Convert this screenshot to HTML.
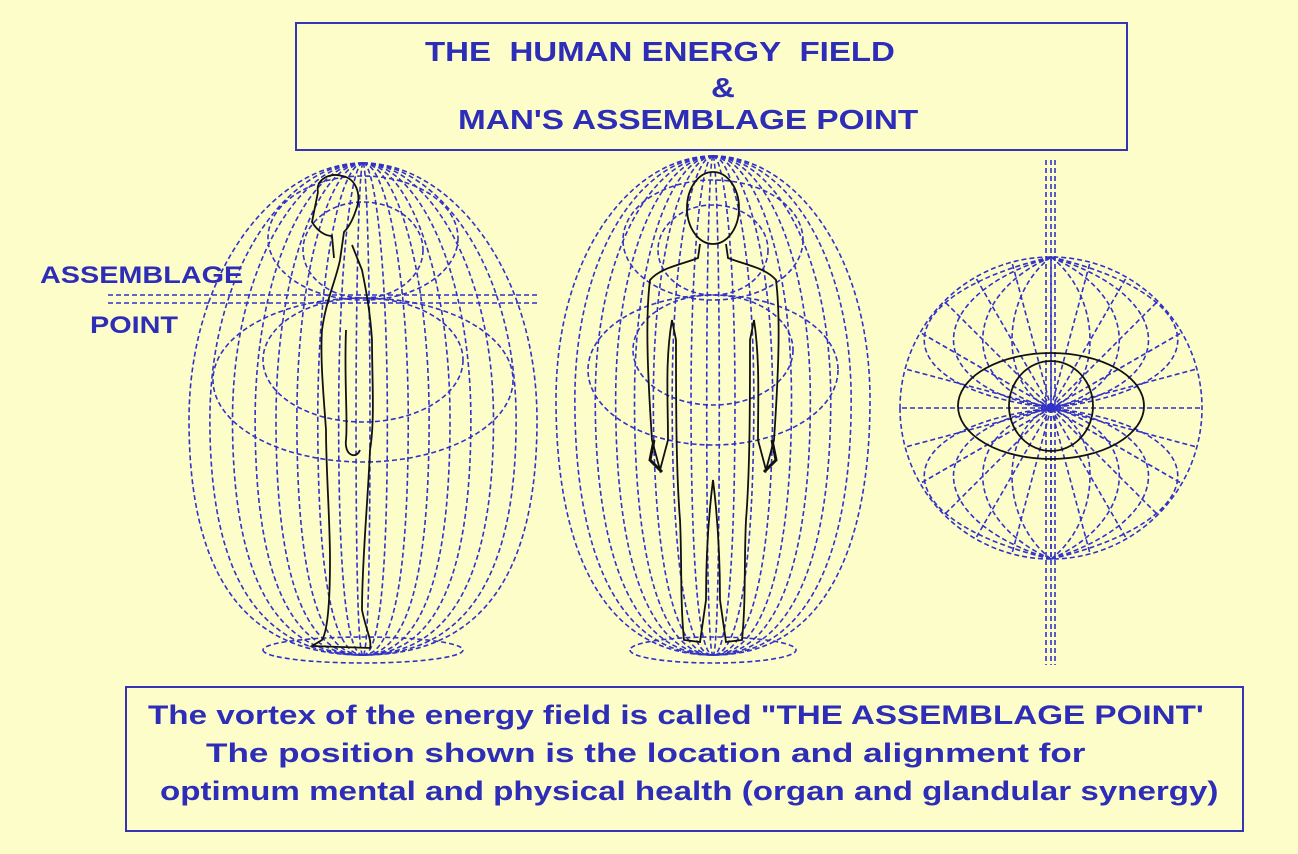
<!DOCTYPE html>
<html><head><meta charset="utf-8"><style>
html,body{margin:0;padding:0;background:#FDFDC9;}
body{width:1298px;height:854px;overflow:hidden;position:relative;font-family:"Liberation Sans",sans-serif;}
.box{position:absolute;border:2px solid #3434b4;box-sizing:border-box;}
.t{position:absolute;font-weight:bold;color:#2d2db8;white-space:nowrap;transform-origin:0 0;}
</style></head><body>
<svg id="s" width="1298" height="854" style="position:absolute;left:0;top:0">
<g id="g" fill="none" stroke="#3232c8" stroke-width="1.6" stroke-dasharray="5 3"></g>
<g fill="none" stroke="#111" stroke-width="1.8">
<path d="M318,192 C315,180 330,172 342,176 C356,178 362,195 356,210 C352,222 348,228 344,232 L340,260 C336,280 326,300 322,330 C320,360 324,400 326,430 C326,470 330,520 330,560 C330,600 328,630 322,640 L312,646 L370,648 C372,640 366,630 362,610 C362,560 368,500 370,450 C375,420 372,380 372,340 C370,310 366,290 362,270 L352,245"/>
<path d="M318,192 L312,222 C318,232 326,236 332,236 L334,258"/>
<path d="M346,330 C344,380 348,420 346,440 C344,455 356,460 360,450"/>
<ellipse cx="713" cy="208" rx="26" ry="36"/>
<path d="M700,244 L698,258 C680,265 660,268 650,280 C645,320 648,380 652,440 L660,470 L668,440 C668,400 665,360 672,320 L676,340 C676,400 676,470 680,520 C682,560 680,600 684,640 L700,642 L706,600 C706,560 708,520 713,480 C718,520 720,560 720,600 L726,642 L742,640 C746,600 744,560 746,520 C750,470 750,400 750,340 L754,320 C760,360 758,400 758,440 L766,470 L774,440 C778,380 781,320 776,280 C766,268 746,265 728,258 L726,244"/>
<path d="M654,440 l-4,20 l12,12 M772,440 l4,20 l-12,12" stroke-width="3"/>
<ellipse cx="1051" cy="406" rx="93" ry="53"/>
<ellipse cx="1051" cy="406" rx="42" ry="45"/>
</g>
</svg>
<div class="box" style="left:295px;top:22px;width:833px;height:129px"></div>
<div class="t" style="left:425px;top:36px;font-size:28px;transform:scaleX(1.18)">THE&nbsp; HUMAN ENERGY&nbsp; FIELD</div>
<div class="t" style="left:711px;top:72px;font-size:28px;transform:scaleX(1.18)">&amp;</div>
<div class="t" style="left:458px;top:104px;font-size:28px;transform:scaleX(1.19)">MAN'S ASSEMBLAGE POINT</div>
<div class="t" style="left:40px;top:262px;font-size:24px;transform:scaleX(1.2)">ASSEMBLAGE</div>
<div class="t" style="left:90px;top:312px;font-size:24px;transform:scaleX(1.2)">POINT</div>
<div class="box" style="left:125px;top:686px;width:1119px;height:146px"></div>
<div class="t" style="left:148px;top:700px;font-size:27px;transform:scaleX(1.23)">The vortex of the energy field is called "THE ASSEMBLAGE POINT'</div>
<div class="t" style="left:206px;top:738px;font-size:27px;transform:scaleX(1.3)">The position shown is the location and alignment for</div>
<div class="t" style="left:160px;top:776px;font-size:27px;transform:scaleX(1.227)">optimum mental and physical health (organ and glandular synergy)</div>
<script>
var g=document.getElementById('g'),NS='http://www.w3.org/2000/svg';
function P(d){var p=document.createElementNS(NS,'path');p.setAttribute('d',d);g.appendChild(p);}
function E(cx,cy,rx,ry){var e=document.createElementNS(NS,'ellipse');e.setAttribute('cx',cx);e.setAttribute('cy',cy);e.setAttribute('rx',rx);e.setAttribute('ry',ry);g.appendChild(e);}
function egg(cx,top,bot,W,ym){
  var fr=[1,0.88,0.75,0.62,0.5,0.38,0.26,0.14,0.04];
  fr.forEach(function(f){[1,-1].forEach(function(s){var w=W*f*s;
   P('M'+cx+','+top+' C'+(cx+w*0.5)+','+top+' '+(cx+w)+','+(ym-150)+' '+(cx+w)+','+ym+' C'+(cx+w)+','+(ym+150)+' '+(cx+w*0.7)+','+bot+' '+cx+','+bot);});});
}
egg(363,163,655,174,420);
egg(713,156,655,157,400);
E(363,238,95,62);E(363,250,60,48);
E(363,380,150,82);E(363,360,100,62);
E(713,240,90,60);E(713,250,55,45);
E(713,370,125,75);E(713,350,80,55);
P('M263,650 a100,13 0 1,0 200,0 a100,13 0 1,0 -200,0');
P('M630,650 a83,13 0 1,0 166,0 a83,13 0 1,0 -166,0');
P('M108,295 L540,295');P('M108,303 L540,303');
var cx=1051,cy=408,r=151;
P('M'+(cx-r)+','+cy+' a'+r+','+r+' 0 1,0 '+(2*r)+',0 a'+r+','+r+' 0 1,0 '+(-2*r)+',0');
for(var a=0;a<360;a+=15){var t=a*Math.PI/180;P('M'+cx+','+cy+' L'+(cx+r*Math.cos(t))+','+(cy+r*Math.sin(t)));}
[40,70,100,130].forEach(function(k){[1,-1].forEach(function(s){
 P('M'+cx+','+(cy-r)+' C'+(cx+s*k*1.3)+','+(cy-r+40)+' '+(cx+s*k*1.3)+','+(cy-20)+' '+cx+','+cy);
 P('M'+cx+','+(cy+r)+' C'+(cx+s*k*1.3)+','+(cy+r-40)+' '+(cx+s*k*1.3)+','+(cy+20)+' '+cx+','+cy);});});
P('M1046,160 L1046,665');P('M1051,160 L1051,665');P('M1055,160 L1055,665');
</script>
</body></html>
